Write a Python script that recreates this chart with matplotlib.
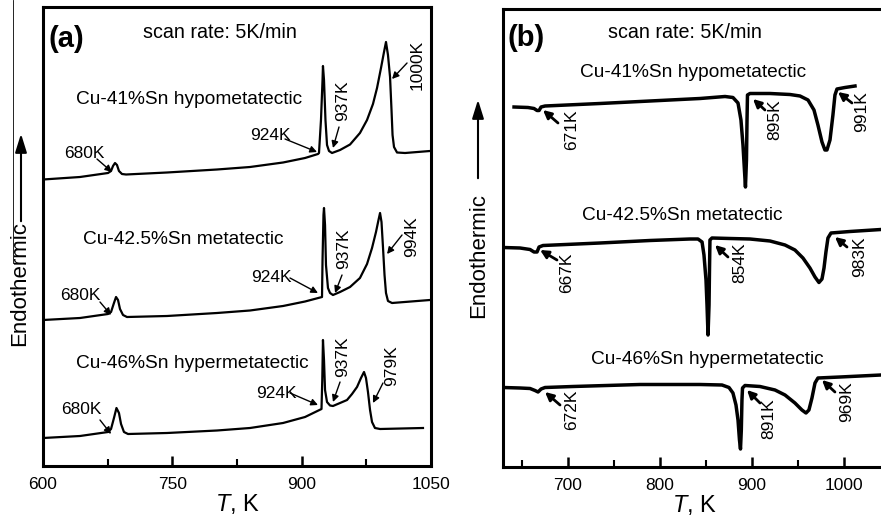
import matplotlib
matplotlib.use('Agg')
import matplotlib.pyplot as plt
from matplotlib.lines import Line2D
from matplotlib.ticker import MultipleLocator

plt.rcParams['font.family'] = ['Liberation Sans', 'DejaVu Sans']
plt.rcParams['mathtext.fontset'] = 'custom'
plt.rcParams['mathtext.it'] = 'Liberation Sans:italic'
plt.rcParams['mathtext.rm'] = 'Liberation Sans'

# ---- (a) heating curves, T in K, DSC signal in arbitrary units ----
t_a1 = [600.0, 642.9, 675.4, 678.9, 681.2, 683.5, 685.8, 688.1, 691.6, 696.3,
        743.8, 801.8, 840.1, 878.4, 903.9, 918.9, 920.1, 922.4, 924.2, 924.7,
        925.9, 927.6, 929.4, 931.7, 935.2, 944.5, 956.1, 967.6, 975.8, 982.7,
        987.4, 992.0, 995.5, 997.8, 1000.1, 1002.5, 1004.2, 1005.4, 1007.1,
        1010.6, 1019.9, 1048.8]
dsc_a1 = [28.65, 28.9, 29.3, 29.5, 30.0, 30.3, 30.1, 29.5, 29.2, 29.15,
          29.35, 29.65, 29.9, 30.35, 30.8, 31.2, 31.3, 34.6, 38.6, 40.0,
          38.6, 34.6, 32.1, 31.5, 31.3, 31.6, 32.15, 33.3, 34.6, 36.2,
          37.8, 39.8, 41.4, 42.4, 41.1, 38.9, 35.6, 33.1, 31.9,
          31.35, 31.3, 31.5]

t_a2 = [600.0, 642.9, 675.4, 678.9, 682.3, 684.7, 687.0, 689.3, 692.8, 697.4,
        743.8, 801.8, 840.1, 878.4, 903.9, 923.6, 924.2, 925.3, 925.9, 927.1,
        928.2, 930.5, 932.9, 936.3, 944.5, 956.1, 967.6, 975.8, 981.6, 986.2,
        989.1, 990.9, 992.6, 994.3, 996.1, 997.8, 1000.1, 1004.8, 1048.8]
dsc_a2 = [14.6, 14.8, 15.2, 15.4, 16.3, 16.9, 16.6, 15.7, 15.1, 14.9,
          15.0, 15.3, 15.55, 16.0, 16.45, 16.9, 20.6, 25.1, 25.8, 24.1,
          20.1, 17.8, 17.3, 17.1, 17.4, 17.9, 18.8, 20.2, 21.8, 23.4,
          24.6, 25.3, 24.4, 21.9, 19.1, 17.3, 16.5, 16.3, 16.6]

t_a3 = [600.0, 642.9, 675.4, 678.9, 682.3, 685.2, 688.1, 690.5, 693.9, 698.6,
        743.8, 801.8, 840.1, 878.4, 903.9, 923.0, 923.9, 924.7, 925.9, 927.1,
        929.4, 932.9, 936.3, 944.5, 952.6, 958.4, 964.2, 968.8, 972.3, 974.6,
        976.9, 979.3, 981.6, 985.0, 990.9, 1040.7]
dsc_a3 = [2.8, 3.0, 3.4, 3.7, 4.8, 5.8, 5.3, 4.2, 3.4, 3.2,
          3.3, 3.55, 3.8, 4.3, 4.9, 5.7, 8.6, 12.6, 10.6, 7.6,
          6.4, 6.05, 6.0, 6.3, 6.6, 7.2, 7.9, 8.8, 9.4, 8.8,
          7.4, 5.6, 4.4, 3.8, 3.7, 3.8]

# ---- (b) cooling curves ----
t_b1 = [641.3, 656.5, 663.0, 666.3, 668.5, 670.7, 675.0, 734.8, 789.1, 843.5,
        870.7, 879.3, 884.8, 888.0, 890.2, 891.8, 892.9, 894.0, 894.6, 895.1,
        897.8, 919.6, 941.3, 952.2, 960.9, 967.4, 971.7, 976.1, 979.3, 981.5,
        984.8, 988.0, 990.2, 992.4, 1001.1, 1012.0]
dsc_b1 = [36.0, 35.95, 35.85, 35.65, 35.65, 36.0, 36.1, 36.35, 36.6, 36.85,
          37.05, 36.95, 36.4, 34.7, 32.2, 29.7, 28.0, 30.7, 34.7, 37.2,
          37.35, 37.35, 37.25, 37.1, 36.7, 35.7, 34.2, 32.5, 31.7, 31.7,
          32.7, 35.2, 37.2, 37.8, 37.95, 38.1]

t_b2 = [629.3, 647.8, 658.7, 663.0, 666.3, 668.5, 672.8, 734.8, 789.1, 832.6,
        841.3, 845.7, 847.8, 850.0, 851.1, 852.2, 853.3, 853.8, 854.3, 856.5,
        876.1, 897.8, 919.6, 935.9, 946.7, 955.4, 963.0, 968.5, 972.8, 976.1,
        978.3, 980.4, 982.6, 985.9, 1006.5, 1040.2]
dsc_b2 = [21.95, 21.9, 21.75, 21.5, 21.5, 22.0, 22.15, 22.4, 22.65, 22.8,
          22.8, 22.5, 21.2, 18.7, 16.2, 13.2, 16.2, 19.7, 22.7, 22.9,
          22.85, 22.8, 22.6, 22.2, 21.7, 20.9, 19.9, 19.0, 18.45, 18.8,
          19.9, 21.5, 22.9, 23.4, 23.55, 23.75]

t_b3 = [629.3, 647.8, 658.7, 664.1, 667.4, 670.7, 675.0, 705.4, 778.3, 843.5,
        867.4, 875.0, 879.3, 882.6, 884.8, 886.4, 887.5, 888.4, 889.1, 889.7,
        892.4, 908.7, 925.0, 935.9, 946.7, 954.3, 958.7, 961.9, 965.2, 968.5,
        971.7, 995.7, 1040.2]
dsc_b3 = [7.95, 7.9, 7.85, 7.65, 7.5, 7.8, 7.95, 8.05, 8.25, 8.25,
          8.2, 7.95, 7.4, 6.2, 4.7, 2.7, 1.8, 3.7, 6.7, 7.9,
          8.15, 8.05, 7.7, 7.2, 6.4, 5.7, 5.4, 5.7, 6.9, 8.4,
          8.9, 9.0, 9.2]

# peak labels: text, text position, arrow tail, arrow tip (T, signal)
labels_a = [
    ('680K', (647.6, 31.25), (662.6, 30.7), (680.0, 29.4), 0),
    ('924K', (863.3, 33.0), (880.7, 32.7), (917.8, 31.4), 0),
    ('937K', (947.9, 36.5), (943.3, 33.9), (936.3, 31.8), 90),
    ('1000K', (1033.8, 40.1), (1022.2, 40.3), (1004.8, 38.7), 90),
    ('680K', (642.9, 17.1), (666.1, 16.4), (678.9, 15.1), 0),
    ('924K', (864.4, 18.8), (886.5, 18.8), (918.9, 17.3), 0),
    ('937K', (949.1, 21.7), (946.8, 19.1), (938.7, 17.3), 90),
    ('994K', (1028.0, 22.9), (1016.4, 23.1), (999.0, 21.2), 90),
    ('680K', (644.1, 5.6), (666.1, 4.6), (678.9, 3.2), 0),
    ('924K', (870.2, 7.3), (886.5, 7.3), (918.9, 6.1), 0),
    ('937K', (947.9, 10.9), (944.5, 8.4), (936.3, 6.4), 90),
    ('979K', (1004.8, 10.0), (994.3, 8.3), (982.7, 6.3), 90),
]
labels_b = [
    ('671K', (704.3, 33.7), (689.1, 34.4), (672.8, 35.7)),
    ('895K', (925.0, 34.7), (914.1, 35.7), (901.1, 36.8)),
    ('991K', (1019.6, 35.5), (1008.7, 36.4), (993.5, 37.5)),
    ('667K', (698.9, 19.4), (688.0, 20.7), (669.6, 21.7)),
    ('854K', (887.0, 20.4), (873.9, 21.0), (859.8, 22.2)),
    ('983K', (1017.4, 21.0), (1003.3, 22.0), (990.2, 23.0)),
    ('672K', (704.3, 5.7), (691.3, 6.2), (675.0, 7.5)),
    ('891K', (918.5, 4.8), (908.7, 6.4), (894.6, 7.7)),
    ('969K', (1003.3, 6.5), (990.2, 7.5), (976.1, 8.7)),
]
alloys = ['Cu-41%Sn hypometatectic', 'Cu-42.5%Sn metatectic',
          'Cu-46%Sn hypermetatectic']
alloy_pos_a = [(769.3, 36.6), (762.4, 22.6), (772.8, 10.3)]
alloy_pos_b = [(835.9, 39.4), (824.5, 25.2), (851.6, 10.7)]

fig = plt.figure(figsize=(8.81, 5.2), dpi=100)
ax_a = fig.add_axes([43 / 881, 54 / 520, 388 / 881, 459 / 520])
ax_b = fig.add_axes([503 / 881, 53 / 520, 383 / 881, 458 / 520])

for ax in (ax_a, ax_b):
    for sp in ax.spines.values():
        sp.set_linewidth(2.2)
    ax.set_yticks([])
    ax.tick_params(axis='x', which='major', direction='in', length=7,
                   width=1.8, labelsize=12.5, pad=8)
    ax.tick_params(axis='x', which='minor', direction='in', length=5,
                   width=1.5)
    ax.set_xlabel('$T$, K', fontsize=17, labelpad=0)

# panel (a)
for t, s in ((t_a1, dsc_a1), (t_a2, dsc_a2), (t_a3, dsc_a3)):
    ax_a.plot(t, s, color='black', lw=1.6)
ax_a.set_xlim(600, 1050)
ax_a.set_ylim(0, 45.9)
ax_a.xaxis.set_major_locator(MultipleLocator(150))
ax_a.xaxis.set_minor_locator(MultipleLocator(75))
for txt, pos, tail, tip, rot in labels_a:
    ax_a.text(pos[0], pos[1], txt, fontsize=12.5, rotation=rot,
              ha='center', va='center')
    ax_a.annotate('', xy=tip, xytext=tail,
                  arrowprops=dict(arrowstyle='-|>', color='black', lw=1,
                                  mutation_scale=10, shrinkA=0, shrinkB=0))
for name, pos in zip(alloys, alloy_pos_a):
    ax_a.text(pos[0], pos[1], name, fontsize=13.8, ha='center', va='center')
ax_a.text(606, 42.7, '(a)', fontsize=21, fontweight='bold', va='center')
ax_a.text(805.3, 43.3, 'scan rate: 5K/min', fontsize=14.2, ha='center',
          va='center')

# panel (b)
for t, s in ((t_b1, dsc_b1), (t_b2, dsc_b2), (t_b3, dsc_b3)):
    ax_b.plot(t, s, color='black', lw=2.5)
ax_b.set_xlim(629.3, 1045.7)
ax_b.set_ylim(0, 45.8)
ax_b.xaxis.set_major_locator(MultipleLocator(100))
ax_b.xaxis.set_minor_locator(MultipleLocator(50))
for txt, pos, tail, tip in labels_b:
    ax_b.text(pos[0], pos[1], txt, fontsize=12.5, rotation=90,
              ha='center', va='center')
    ax_b.annotate('', xy=tip, xytext=tail,
                  arrowprops=dict(arrowstyle='-|>', color='black', lw=2,
                                  mutation_scale=12, shrinkA=0, shrinkB=0))
for name, pos in zip(alloys, alloy_pos_b):
    ax_b.text(pos[0], pos[1], name, fontsize=13.8, ha='center', va='center')
ax_b.text(634.0, 42.9, '(b)', fontsize=21, fontweight='bold', va='center')
ax_b.text(826.6, 43.4, 'scan rate: 5K/min', fontsize=14.2, ha='center',
          va='center')

# "Endothermic" labels with upward arrows
fig.text(20 / 881, 1 - 284 / 520, 'Endothermic', rotation=90, fontsize=16,
         ha='center', va='center')
fig.add_artist(matplotlib.patches.FancyArrowPatch(
    (21 / 881, 1 - 224 / 520), (21 / 881, 1 - 131 / 520),
    transform=fig.transFigure, arrowstyle='-|>,head_length=0.8,head_width=0.25',
    mutation_scale=14, lw=1.5, color='black'))
fig.text(479 / 881, 1 - 255 / 520, 'Endothermic', rotation=90, fontsize=16,
         ha='center', va='center')
fig.add_artist(matplotlib.patches.FancyArrowPatch(
    (478 / 881, 1 - 181 / 520), (478 / 881, 1 - 97 / 520),
    transform=fig.transFigure, arrowstyle='-|>,head_length=0.8,head_width=0.25',
    mutation_scale=14, lw=1.5, color='black'))
fig.add_artist(Line2D([13 / 881, 13 / 881], [1.0, 1 - 263 / 520],
                      transform=fig.transFigure, color='black', lw=0.6))

fig.savefig('out.png', dpi=100)
